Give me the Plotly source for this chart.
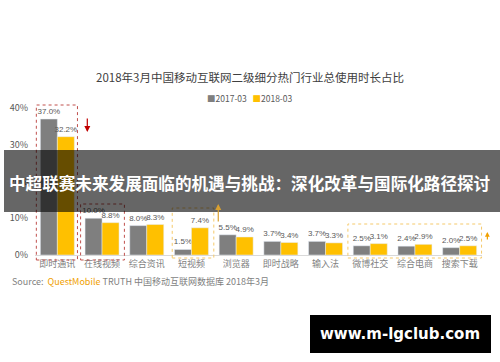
import plotly.graph_objects as go

categories = ["即时通讯", "在线视频", "综合资讯", "短视频", "浏览器", "即时战略", "输入法", "微博社交", "综合电商", "搜索下载"]
series_names = ["2017-03", "2018-03"]
values_2017 = [37.0, 10.0, 8.0, 1.5, 5.5, 3.7, 3.7, 2.5, 2.4, 2.0]
values_2018 = [32.2, 8.8, 8.3, 7.4, 4.9, 3.4, 3.3, 3.1, 2.9, 2.5]
y_ticks = [0, 10, 20, 30, 40]
y_tick_labels = ["0%", "10%", "20%", "30%", "40%"]
series_colors = ["#7F7F7F", "#FFC000"]

W, H = 500, 362
L, R, T, B = 35, 18, 108, 107
PW, PH = W - L - R, H - T - B
FONT = "Noto Sans CJK SC, Noto Sans, sans-serif"

def px_x(px):
    return (px - L) / PW

def px_y(py):
    return (H - B - py) / PH

def cat_x(idx, off=0.0):
    return (idx + off + 0.5) / len(categories)

fig = go.Figure()
for name, vals, col in zip(series_names, [values_2017, values_2018], series_colors):
    fig.add_trace(go.Bar(
        name=name, x=categories, y=vals, marker_color=col,
        text=[f"{v:.1f}%" for v in vals], textposition="outside", constraintext="none",
        textfont=dict(size=8, color="#595959", family="Liberation Sans, Arial, sans-serif"),
        cliponaxis=False, showlegend=False))

shapes = []
def box(i0, off0, i1, off1, ytop, ybot, color):
    shapes.append(dict(type="rect", xref="paper", yref="paper",
                       x0=cat_x(i0, off0), x1=cat_x(i1, off1),
                       y0=px_y(ybot), y1=px_y(ytop),
                       line=dict(color=color, width=1, dash="dot"), layer="above"))

box(0, -0.47, 0, 0.45, 105, 260, "#C0504D")
box(1, -0.48, 1, 0.50, 204, 260, "#C0504D")
box(3, -0.43, 3, 0.50, 208, 258, "#F5C96A")
box(7, -0.50, 9, 0.49, 224, 258, "#F5C96A")

shapes.append(dict(type="rect", xref="paper", yref="paper",
                   x0=px_x(4), x1=px_x(500), y0=px_y(212), y1=px_y(150),
                   fillcolor="rgba(0,0,0,0.6)", line=dict(width=0), layer="above"))
shapes.append(dict(type="rect", xref="paper", yref="paper",
                   x0=px_x(310), x1=px_x(491), y0=px_y(353), y1=px_y(315),
                   fillcolor="#000000", line=dict(width=0), layer="above"))

annotations = [
    dict(text="Source:  <span style='color:#F0A000'>QuestMobile</span> TRUTH 中国移动互联网数据库 2018年3月",
         xref="paper", yref="paper", x=px_x(10), y=px_y(281), xanchor="left", yanchor="middle",
         showarrow=False, font=dict(size=9, color="#7F7F7F", family=FONT)),
    dict(text="<b>中超联赛未来发展面临的机遇与挑战：深化改革与国际化路径探讨</b>",
         xref="paper", yref="paper", x=px_x(250), y=px_y(183), xanchor="center", yanchor="middle",
         showarrow=False, font=dict(size=16.6, color="#FFFFFF", family=FONT)),
    dict(text="<b>www.m-lgclub.com</b>",
         xref="paper", yref="paper", x=px_x(400), y=px_y(334), xanchor="center", yanchor="middle",
         showarrow=False, font=dict(size=15, color="#FFFFFF", family="DejaVu Sans, sans-serif")),
    dict(text=f"<span style='color:{series_colors[0]}'>■</span>{series_names[0]}   "
              f"<span style='color:{series_colors[1]}'>■</span>{series_names[1]}",
         xref="paper", yref="paper", x=px_x(250), y=px_y(98), xanchor="center", yanchor="middle",
         showarrow=False, font=dict(size=8.5, color="#595959", family=FONT)),
    dict(text="", xref="paper", yref="paper", x=cat_x(0, 0.67), y=px_y(132), ax=0, ay=-15,
         showarrow=True, arrowhead=2, arrowsize=1, arrowwidth=1.2, arrowcolor="#C00000"),
    dict(text="", xref="paper", yref="paper", x=cat_x(3, 0.6), y=px_y(204), ax=0, ay=19,
         showarrow=True, arrowhead=2, arrowsize=1, arrowwidth=1.2, arrowcolor="#D9A030"),
    dict(text="", xref="paper", yref="paper", x=cat_x(9, 0.62), y=px_y(232), ax=0, ay=9,
         showarrow=True, arrowhead=2, arrowsize=0.8, arrowwidth=1.2, arrowcolor="#F0A000"),
]

fig.update_layout(
    width=W, height=H, autosize=False,
    margin=dict(l=L, r=R, t=T, b=B, pad=0, autoexpand=False),
    paper_bgcolor="white", plot_bgcolor="white",
    font=dict(family=FONT, size=9, color="#595959"),
    title=dict(text="2018年3月中国移动互联网二级细分热门行业总使用时长占比",
               x=0.5, xref="container", xanchor="center",
               y=1 - 78 / H, yref="container", yanchor="middle",
               font=dict(size=11.5, color="#404040", family=FONT)),
    barmode="group", bargap=0.24, bargroupgap=0,
    showlegend=False,
    shapes=shapes, annotations=annotations,
    xaxis=dict(showgrid=False, showline=True, linecolor="#D9D9D9", linewidth=1, automargin=False,
               ticks="", tickfont=dict(size=9, color="#7F7F7F"), fixedrange=True),
    yaxis=dict(range=[0, 40], tickmode="array", tickvals=y_ticks, ticktext=y_tick_labels,
               showgrid=False, automargin=False, zeroline=False, showline=False, ticks="",
               tickfont=dict(size=9, color="#595959"), ticklabelstandoff=6),
)

fig.write_html("out.html", config={"displayModeBar": False},
               post_script="document.body.style.margin='0';")
